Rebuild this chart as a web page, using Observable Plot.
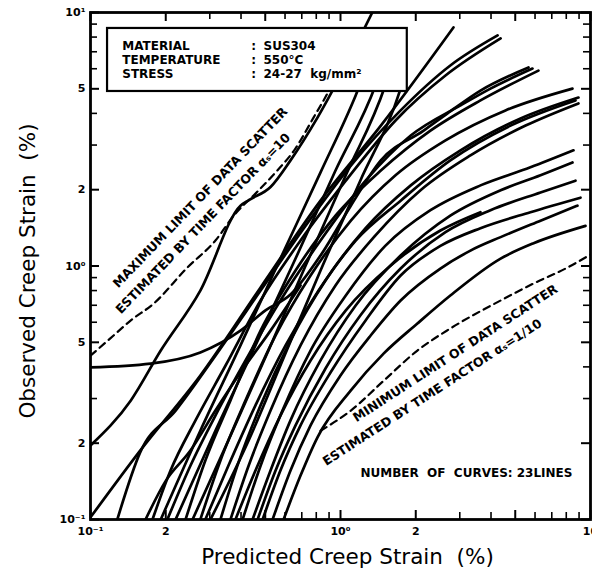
<!DOCTYPE html>
<html><head><meta charset="utf-8">
<script src="https://cdn.jsdelivr.net/npm/d3@7"></script>
<script src="https://cdn.jsdelivr.net/npm/@observablehq/plot@0.6"></script>
<style>
html,body{margin:0;padding:0;background:#fff;}
</style></head><body><div id="chart"></div>
<script>
// ---- tick values and labels ----
const xTicks = [0.1, 0.2, 0.5, 1, 2, 5, 10];
const xTickLabels = ["10⁻¹", "2", "5", "10⁰", "2", "5", "10"];
const yTicks = [0.1, 0.2, 0.5, 1, 2, 5, 10];
const yTickLabels = ["10⁻¹", "2", "5", "10⁰", "2", "5", "10¹"];
const minorTicks = [0.3, 0.4, 0.6, 0.7, 0.8, 0.9, 3, 4, 6, 7, 8, 9];

// ---- creep curves: [predicted %, observed %] ----
const lineA = [[0.100,0.196],[0.145,0.295],[0.191,0.464],[0.275,0.800],[0.398,1.73],[0.430,1.82],[0.525,2.05],[0.631,2.61],[0.809,3.85],[1.34,10]];
const lineB = [[0.100,0.102],[0.158,0.187],[0.275,0.370],[0.479,0.823],[0.832,1.81],[1.45,3.58],[2.83,8.73]];
const lineC = [[0.128,0.100],[0.158,0.184],[0.219,0.269],[0.316,0.443],[0.479,0.800],[0.724,1.44],[1.10,2.49],[1.74,4.11],[2.75,6.18],[4.25,8.12]];
const lineK = [[0.100,0.398],[0.174,0.412],[0.275,0.456],[0.398,0.556],[0.501,0.668],[0.631,0.772],[0.832,1.10],[1.10,1.73],[1.45,2.61],[2.15,3.42],[2.68,4.00],[3.63,4.92],[5.65,6.07]];
const lineM1 = [[0.177,0.100],[0.209,0.156],[0.263,0.246],[0.347,0.405],[0.479,0.731],[0.692,1.26],[1.05,2.17],[1.66,3.75],[2.63,5.64],[4.37,7.90]];
const line6 = [[0.240,0.100],[0.288,0.171],[0.363,0.295],[0.479,0.556],[0.661,0.960],[0.955,1.58],[1.45,2.38],[2.29,3.42],[3.63,4.50],[6.19,5.90]];
const line7 = [[0.275,0.100],[0.331,0.171],[0.417,0.295],[0.550,0.532],[0.759,0.917],[1.10,1.51],[1.66,2.28],[2.63,3.13],[4.57,4.11],[8.47,5.01]];
const line8 = [[0.331,0.100],[0.391,0.168],[0.479,0.282],[0.631,0.508],[0.871,0.877],[1.26,1.41],[1.91,2.08],[3.02,2.86],[5.25,3.82],[8.95,4.62]];
const line9 = [[0.363,0.100],[0.429,0.163],[0.525,0.269],[0.692,0.486],[0.955,0.838],[1.38,1.32],[2.09,1.99],[3.31,2.73],[5.50,3.58],[8.95,4.38]];
const line10 = [[0.406,0.100],[0.479,0.163],[0.586,0.269],[0.759,0.464],[1.05,0.765],[1.51,1.20],[2.29,1.66],[3.63,2.08],[5.75,2.45],[8.55,2.86]];
const line11 = [[0.445,0.100],[0.525,0.156],[0.631,0.246],[0.832,0.424],[1.15,0.699],[1.74,1.10],[2.75,1.58],[4.37,1.99],[6.31,2.28],[8.47,2.56]];
const line12 = [[0.488,0.100],[0.575,0.156],[0.692,0.235],[0.912,0.380],[1.26,0.610],[1.74,0.917],[2.51,1.20],[3.63,1.41],[5.75,1.63],[9.12,1.86]];
const line13 = [[0.535,0.100],[0.631,0.156],[0.759,0.235],[1.00,0.370],[1.32,0.532],[1.74,0.731],[2.51,0.977],[3.31,1.15],[4.37,1.30],[6.31,1.51],[8.87,1.73]];
const line14 = [[0.592,0.100],[0.692,0.149],[0.809,0.211],[1.10,0.323],[1.49,0.452],[2.03,0.593],[2.75,0.765],[4.37,1.07],[5.92,1.23],[9.55,1.44]];
const lineS1 = [[0.191,0.100],[0.275,0.224],[0.398,0.486],[0.575,1.07],[0.832,2.34],[1.15,4.71],[1.26,5.90]];
const lineS2 = [[0.219,0.100],[0.316,0.224],[0.457,0.486],[0.661,1.07],[0.955,2.38],[1.38,5.15],[1.45,5.90]];
const lineS3 = [[0.256,0.100],[0.363,0.214],[0.515,0.464],[0.724,1.00],[1.05,2.28],[1.51,5.15],[1.58,5.90]];
const lineS4 = [[0.302,0.100],[0.429,0.205],[0.597,0.443],[0.832,0.960],[1.20,2.17],[1.74,5.01],[1.79,5.49]];
const lineX1 = [[0.203,0.100],[0.251,0.163],[0.316,0.257],[0.417,0.424],[0.575,0.731],[0.832,1.26],[1.26,2.17],[1.91,3.27],[3.02,4.30],[3.98,5.01],[5.86,6.01]];
const lineX2 = [[0.380,0.100],[0.457,0.156],[0.575,0.257],[0.759,0.424],[1.05,0.668],[1.58,1.00],[2.51,1.38],[3.63,1.63]];
const lineX3 = [[0.166,0.100],[0.200,0.142],[0.251,0.187],[0.316,0.269],[0.398,0.380],[0.525,0.556],[0.692,0.838]];
const lineX4 = [[0.466,0.100],[0.550,0.156],[0.661,0.235],[0.871,0.394],[1.20,0.638],[1.74,0.977],[2.63,1.36],[3.98,1.66],[6.31,1.95],[8.71,2.17]];
const lineX5 = [[0.288,0.100],[0.356,0.163],[0.457,0.282],[0.603,0.486],[0.817,0.800],[1.15,1.26],[1.74,1.81],[2.75,2.61],[4.79,3.58],[8.71,4.50]];

// ---- scatter limits (dashed) ----
const maxLimit = [[0.100,0.443],[0.120,0.518],[0.145,0.610],[0.179,0.711],[0.244,0.986],[0.316,1.26],[0.380,1.61],[0.457,1.93],[0.550,2.34],[0.661,2.91],[0.780,3.85],[0.895,4.88],[0.982,5.90]];
const minLimit = [[0.832,0.224],[1.10,0.269],[1.49,0.353],[2.03,0.464],[2.75,0.567],[4.37,0.731],[5.92,0.853],[8.09,0.986],[10,1.11]];

// ---- legend box text ----
const legendKeys = ["MATERIAL", "TEMPERATURE", "STRESS"];
const legendValues = ["SUS304", "550°C", "24-27  kg/mm²"];

const allCurves = [lineA, lineB, lineC, lineK, lineM1, line6, line7, line8, line9, line10, line11, line12, line13, line14,
  lineS1, lineS2, lineS3, lineS4, lineX1, lineX2, lineX3, lineX4, lineX5];
const curveRows = allCurves.flatMap((pts, i) => pts.map(([x, y]) => ({id: i, x, y})));
const xLab = new Map(xTicks.map((v, i) => [v, xTickLabels[i]]));
const yLab = new Map(yTicks.map((v, i) => [v, yTickLabels[i]]));
const rowY = [7.34, 6.47, 5.69];
const legendRows = legendKeys.map((k, i) => ({k, v: legendValues[i], y: rowY[i]}));

const W = 592, H = 573, mL = 90, mR = 2, mT = 12, mB = 54;
const iw = W - mL - mR, ih = H - mT - mB;
const bold = "DejaVu Sans";

const chart = Plot.plot({
  width: W, height: H,
  marginLeft: mL, marginRight: mR, marginTop: mT, marginBottom: mB,
  x: {type: "log", domain: [0.1, 10]},
  y: {type: "log", domain: [0.1, 10]},
  style: {background: "white", fontFamily: "Liberation Sans", color: "black"},
  marks: [
    Plot.line(curveRows, {x: "x", y: "y", z: "id", stroke: "black", strokeWidth: 2.7, curve: "monotone-x", clip: true}),
    Plot.line(maxLimit, {x: d => d[0], y: d => d[1], stroke: "black", strokeWidth: 2.2, strokeDasharray: "7,5", curve: "monotone-x", clip: true}),
    Plot.line(minLimit, {x: d => d[0], y: d => d[1], stroke: "black", strokeWidth: 2.2, strokeDasharray: "7,5", curve: "monotone-x", clip: true}),
    Plot.rect([0], {x1: 0.117, x2: 1.85, y1: 4.88, y2: 8.65, fill: "white", stroke: "black", strokeWidth: 2.2}),
    Plot.text(legendRows, {x: 0.134, y: "y", text: "k", textAnchor: "start", fontFamily: bold, fontWeight: "bold", fontSize: 12}),
    Plot.text(legendRows, {x: 0.440, y: "y", text: () => ":", textAnchor: "start", fontFamily: bold, fontWeight: "bold", fontSize: 12}),
    Plot.text(legendRows, {x: 0.492, y: "y", text: "v", textAnchor: "start", fontFamily: bold, fontWeight: "bold", fontSize: 12}),
    Plot.text(["MAXIMUM LIMIT OF DATA SCATTER"], {x: 0.275, y: 1.86, rotate: -46, fontFamily: bold, fontWeight: "bold", fontSize: 12.5}),
    Plot.text(["ESTIMATED BY TIME FACTOR αₛ=10"], {x: 0.282, y: 1.47, rotate: -46, fontFamily: bold, fontWeight: "bold", fontSize: 12.5}),
    Plot.text(["MINIMUM LIMIT OF DATA SCATTER"], {x: 2.88, y: 0.452, rotate: -33, fontFamily: bold, fontWeight: "bold", fontSize: 12.5}),
    Plot.text(["ESTIMATED BY TIME FACTOR αₛ=1/10"], {x: 2.33, y: 0.317, rotate: -33, fontFamily: bold, fontWeight: "bold", fontSize: 12.5}),
    Plot.text(["NUMBER  OF  CURVES: 23LINES"], {x: 3.19, y: 0.152, fontFamily: bold, fontWeight: "bold", fontSize: 12}),
    // inward ticks
    Plot.ruleX(xTicks, {x: d => d, insetTop: ih - 9, strokeWidth: 2}),
    Plot.ruleX(minorTicks, {x: d => d, insetTop: ih - 7, strokeWidth: 1.6}),
    Plot.ruleX(xTicks, {x: d => d, insetBottom: ih - 9, strokeWidth: 2}),
    Plot.ruleX(minorTicks, {x: d => d, insetBottom: ih - 7, strokeWidth: 1.6}),
    Plot.ruleY(yTicks, {y: d => d, insetRight: iw - 9, strokeWidth: 2}),
    Plot.ruleY(minorTicks, {y: d => d, insetRight: iw - 7, strokeWidth: 1.6}),
    Plot.ruleY(yTicks, {y: d => d, insetLeft: iw - 9, strokeWidth: 2}),
    Plot.ruleY(minorTicks, {y: d => d, insetLeft: iw - 7, strokeWidth: 1.6}),
    Plot.frame({stroke: "black", strokeWidth: 2.8}),
    Plot.axisX(xTicks, {tickSize: 0, tickPadding: 8, tickFormat: d => xLab.get(d), fontFamily: bold, fontWeight: "bold", fontSize: 11, label: null}),
    Plot.axisY(yTicks, {tickSize: 0, tickPadding: 5, tickFormat: d => yLab.get(d), fontFamily: bold, fontWeight: "bold", fontSize: 11, label: null}),
    Plot.text(["Predicted Creep Strain  (%)"], {frameAnchor: "bottom", textAnchor: "middle", lineAnchor: "bottom", dx: 7, dy: 44, fontFamily: "DejaVu Sans", fontSize: 21.5}),
    Plot.text(["Observed Creep Strain  (%)"], {frameAnchor: "left", textAnchor: "middle", lineAnchor: "middle", rotate: -90, dx: -62, dy: 5, fontFamily: "DejaVu Sans", fontSize: 21.5})
  ]
});
document.getElementById("chart").appendChild(chart);
</script></body></html>
